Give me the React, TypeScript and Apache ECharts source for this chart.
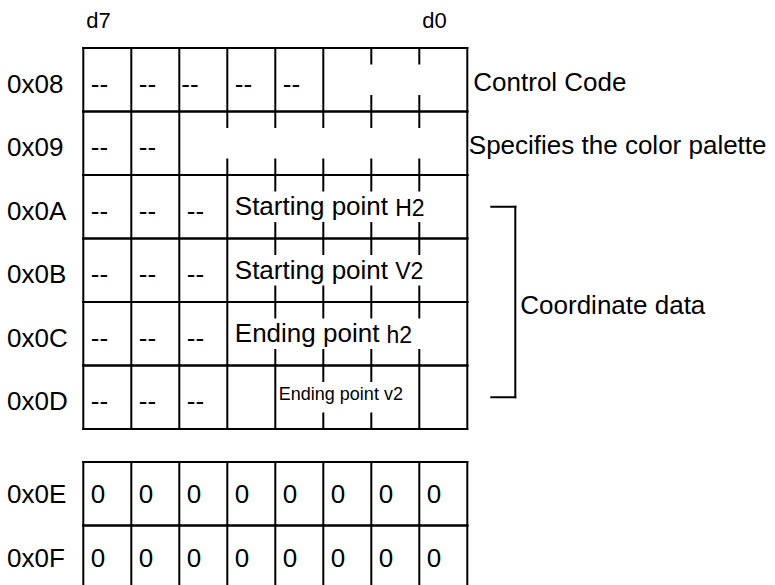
import React, { useEffect, useRef } from 'react';
import * as echarts from 'echarts';

// ---- data ----
const rowLabels = ['0x08', '0x09', '0x0A', '0x0B', '0x0C', '0x0D', '0x0E', '0x0F'];
// row top position in row units (second table starts after a gap)
const rowTops = [0, 1, 2, 3, 4, 5, 6.52, 7.52];
const bitLabels = ['d7', 'd0'];
const bitLabelCols = [0, 7];
// contents of single-bit cells, columns d7..d0; null = part of a merged field
const cellTexts: (string | null)[][] = [
  ['--', '--', '--', '--', '--', null, null, null],
  ['--', '--', null, null, null, null, null, null],
  ['--', '--', '--', null, null, null, null, null],
  ['--', '--', '--', null, null, null, null, null],
  ['--', '--', '--', null, null, null, null, null],
  ['--', '--', '--', '', null, null, null, ''],
  ['0', '0', '0', '0', '0', '0', '0', '0'],
  ['0', '0', '0', '0', '0', '0', '0', '0'],
];
const mergedStart = [5, 2, 3, 3, 3, 4, -1, -1];
const mergedEnd = [8, 8, 8, 8, 8, 7, -1, -1];
const mergedText = ['', '', 'Starting point', 'Starting point', 'Ending point', 'Ending point v2', '', ''];
const mergedSuffix = ['', '', 'H2', 'V2', 'h2', '', '', ''];
const mergedSmall = [false, false, false, false, false, true, false, false];
const rowNotes = ['Control Code', 'Specifies the color palette', '', '', '', '', '', ''];
const groupNote = 'Coordinate data';
const groupRowRange = [2.5, 5.5];

// ---- styles ----
const FONT = '"Liberation Sans", Arial, Helvetica, sans-serif';
const INK = '#000';
const TICK = 15.5;
const MAIN = 26;

function renderRow(params: any, api: any) {
  const i = api.value(0) as number;
  const top = rowTops[i];
  const [x0, yT] = api.coord([0, top]);
  const yB = api.coord([0, top + 1])[1];
  const x8 = api.coord([8, top])[0];
  const h = yB - yT;
  const xc = (c: number) => api.coord([c, top])[0];
  const line = (x1: number, y1: number, x2: number, y2: number) => ({
    type: 'line',
    shape: { x1, y1, x2, y2 },
    style: { stroke: INK, lineWidth: 2, lineCap: 'square' },
    silent: true,
  });
  const text = (x: number, y: number, t: string, size: number, extra: any = {}) => ({
    type: 'text',
    x,
    y,
    silent: true,
    style: {
      text: t,
      fontSize: size,
      fontFamily: FONT,
      fill: INK,
      align: 'left',
      verticalAlign: 'middle',
      ...extra,
    },
  });
  const children: any[] = [];
  children.push(line(x0, yT, x8, yT));
  children.push(line(x0, yB, x8, yB));
  const ms = mergedStart[i];
  const me = mergedEnd[i];
  for (let b = 0; b <= 8; b++) {
    const x = xc(b);
    if (ms >= 0 && b > ms && b < me) {
      children.push(line(x, yT, x, yT + TICK));
      children.push(line(x, yB - TICK, x, yB));
    } else {
      children.push(line(x, yT, x, yB));
    }
  }
  const textFrac = i >= 6 ? 0.51 : 0.56;
  const ty = yT + textFrac * h;
  // row address label
  children.push(text(7, ty, rowLabels[i], MAIN));
  // single cells
  cellTexts[i].forEach((t, c) => {
    if (t) {
      const pad = i === 0 && c === 2 ? 2 : 7.5;
      children.push(text(xc(c) + pad, ty, t, MAIN));
    }
  });
  // merged field text
  if (mergedText[i]) {
    if (mergedSmall[i]) {
      children.push(text(xc(ms) + 3.5, yT + 0.445 * h, mergedText[i], 18));
    } else {
      children.push(
        text(xc(ms) + 7.5, yT + 0.49 * h, `{a|${mergedText[i]} }{b|${mergedSuffix[i]}}`, MAIN, {
          rich: {
            a: { fontSize: MAIN, fontFamily: FONT, fill: INK },
            b: { fontSize: 23, fontFamily: FONT, fill: INK, verticalAlign: 'bottom' },
          },
        })
      );
    }
  }
  // right-side note
  if (rowNotes[i]) {
    const pad = i === 0 ? 6 : 1.5;
    children.push(text(x8 + pad, yT + (i === 0 ? 0.53 : 0.52) * h, rowNotes[i], MAIN));
  }
  // header bit labels and group bracket drawn once (with first row)
  if (i === 0) {
    bitLabels.forEach((lab, k) => {
      const x = xc(bitLabelCols[k]) + 3;
      const y = api.coord([0, -0.44])[1];
      children.push(text(x, y, lab, 22));
    });
    const yA = api.coord([0, groupRowRange[0]])[1];
    const yD = api.coord([0, groupRowRange[1]])[1];
    const bx1 = x8 + 24;
    const bx2 = x8 + 48;
    children.push(line(bx1, yA, bx2, yA));
    children.push(line(bx2, yA, bx2, yD));
    children.push(line(bx1, yD, bx2, yD));
    const yMid = api.coord([0, (groupRowRange[0] + groupRowRange[1]) / 2 + 0.05])[1];
    children.push(text(bx2 + 5, yMid, groupNote, MAIN));
  }
  return { type: 'group', children };
}

export default function App() {
  const ref = useRef<HTMLDivElement>(null);
  useEffect(() => {
    const chart = echarts.init(ref.current!, null, { renderer: 'svg' });
    chart.setOption({
      animation: false,
      backgroundColor: '#fff',
      grid: { left: 83.3, top: 48, width: 384, height: 8 * 63.5 },
      xAxis: { type: 'value', min: 0, max: 8, show: false },
      yAxis: { type: 'value', min: 0, max: 8, inverse: true, show: false },
      series: [
        {
          type: 'custom',
          coordinateSystem: 'cartesian2d',
          silent: true,
          clip: false,
          renderItem: renderRow,
          data: rowLabels.map((_, i) => [i, rowTops[i]]),
        },
      ],
    });
    return () => chart.dispose();
  }, []);
  return (
    <div
      ref={ref}
      style={{ position: 'fixed', left: 0, top: 0, width: 775, height: 585, background: '#fff' }}
    />
  );
}
